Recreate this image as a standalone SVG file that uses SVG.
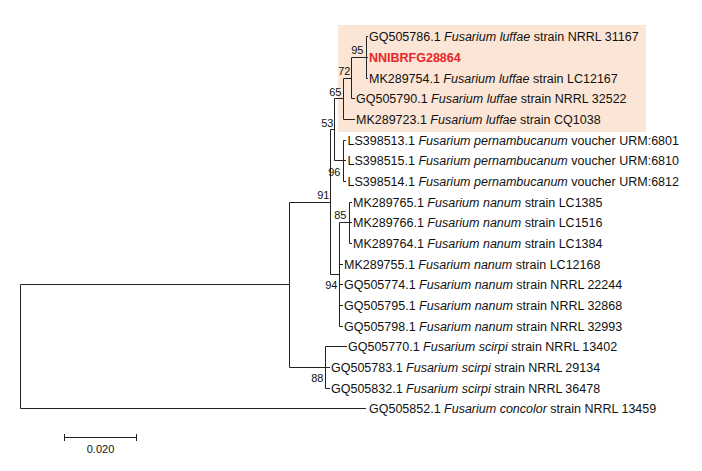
<svg xmlns="http://www.w3.org/2000/svg" width="702" height="471" viewBox="0 0 702 471">
<style>
text{font-family:"Liberation Sans",Arial,sans-serif;fill:#111}
.leaf{font-size:12.5px}
.sp{font-style:italic}
.bs{font-size:11px;text-anchor:end}
.hl{font-weight:bold;fill:#E8262B}
#edges path{fill:none;stroke:#222;stroke-width:1}
</style>
<rect id="highlight" x="338" y="25" width="308" height="107" fill="#FBE5D6"/>
<g id="edges">
<path d="M366.5 36.5V78.5M366.5 36.5H368M366.5 57.5H368M366.5 78.5H368"/>
<path d="M351.5 57.5H366.5M351.5 57.5V98.5M351.5 98.5H355"/>
<path d="M343.5 78.5H351.5M343.5 78.5V119.5M343.5 119.5H355"/>
<path d="M334.5 98.5H343.5M334.5 98.5V160.5M334.5 160.5H343.5"/>
<path d="M343.5 140.5V181.5M343.5 140.5H346M343.5 160.5H346M343.5 181.5H346"/>
<path d="M330.5 129.5H334.5M330.5 129.5V274.5M330.5 274.5H339.5"/>
<path d="M339.5 222.5V326.5M339.5 222.5H349.5M339.5 264.5H343M339.5 284.5H343M339.5 305.5H343M339.5 326.5H343"/>
<path d="M349.5 202.5V243.5M349.5 202.5H352M349.5 222.5H352M349.5 243.5H352"/>
<path d="M289.5 202.5H330.5M289.5 202.5V367.5M289.5 367.5H325.5"/>
<path d="M325.5 346.5V388.5M325.5 346.5H347M325.5 367.5H330M325.5 388.5H330"/>
<path d="M20.5 284.5H289.5M20.5 284.5V408.5M20.5 408.5H366"/>
</g>
<g id="bootstrap">
<text class="bs" x="363.5" y="54">95</text>
<text class="bs" x="350.5" y="74.5">72</text>
<text class="bs" x="341.5" y="95.5">65</text>
<text class="bs" x="333.5" y="127">53</text>
<text class="bs" x="340.5" y="176">96</text>
<text class="bs" x="329.5" y="199">91</text>
<text class="bs" x="346.5" y="219">85</text>
<text class="bs" x="337.5" y="289">94</text>
<text class="bs" x="323.5" y="382">88</text>
</g>
<g id="leaf1"><text class="leaf" x="369" y="41">GQ505786.1 <tspan class="sp">Fusarium luffae</tspan> strain NRRL 31167</text></g>
<g id="leaf2"><text class="leaf hl" x="369" y="62">NNIBRFG28864</text></g>
<g id="leaf3"><text class="leaf" x="369" y="83">MK289754.1 <tspan class="sp">Fusarium luffae</tspan> strain LC12167</text></g>
<g id="leaf4"><text class="leaf" x="356" y="103">GQ505790.1 <tspan class="sp">Fusarium luffae</tspan> strain NRRL 32522</text></g>
<g id="leaf5"><text class="leaf" x="356" y="124">MK289723.1 <tspan class="sp">Fusarium luffae</tspan> strain CQ1038</text></g>
<g id="leaf6"><text class="leaf" x="347.5" y="145">LS398513.1 <tspan class="sp">Fusarium pernambucanum</tspan> voucher URM:6801</text></g>
<g id="leaf7"><text class="leaf" x="347.5" y="165">LS398515.1 <tspan class="sp">Fusarium pernambucanum</tspan> voucher URM:6810</text></g>
<g id="leaf8"><text class="leaf" x="347.5" y="186">LS398514.1 <tspan class="sp">Fusarium pernambucanum</tspan> voucher URM:6812</text></g>
<g id="leaf9"><text class="leaf" x="353" y="207">MK289765.1 <tspan class="sp">Fusarium nanum</tspan> strain LC1385</text></g>
<g id="leaf10"><text class="leaf" x="353" y="227">MK289766.1 <tspan class="sp">Fusarium nanum</tspan> strain LC1516</text></g>
<g id="leaf11"><text class="leaf" x="353" y="248">MK289764.1 <tspan class="sp">Fusarium nanum</tspan> strain LC1384</text></g>
<g id="leaf12"><text class="leaf" x="344" y="269">MK289755.1 <tspan class="sp">Fusarium nanum</tspan> strain LC12168</text></g>
<g id="leaf13"><text class="leaf" x="344" y="289">GQ505774.1 <tspan class="sp">Fusarium nanum</tspan> strain NRRL 22244</text></g>
<g id="leaf14"><text class="leaf" x="344" y="310">GQ505795.1 <tspan class="sp">Fusarium nanum</tspan> strain NRRL 32868</text></g>
<g id="leaf15"><text class="leaf" x="344" y="331">GQ505798.1 <tspan class="sp">Fusarium nanum</tspan> strain NRRL 32993</text></g>
<g id="leaf16"><text class="leaf" x="348" y="351">GQ505770.1 <tspan class="sp">Fusarium scirpi</tspan> strain NRRL 13402</text></g>
<g id="leaf17"><text class="leaf" x="331" y="372">GQ505783.1 <tspan class="sp">Fusarium scirpi</tspan> strain NRRL 29134</text></g>
<g id="leaf18"><text class="leaf" x="331" y="393">GQ505832.1 <tspan class="sp">Fusarium scirpi</tspan> strain NRRL 36478</text></g>
<g id="leaf19"><text class="leaf" x="369" y="413">GQ505852.1 <tspan class="sp">Fusarium concolor</tspan> strain NRRL 13459</text></g>
<g id="scalebar">
<path d="M64.5 437.5H136.5M64.5 434V441M136.5 434V441" fill="none" stroke="#222" stroke-width="1"/>
<text x="100.5" y="452.5" font-size="11" text-anchor="middle">0.020</text>
</g>
</svg>
